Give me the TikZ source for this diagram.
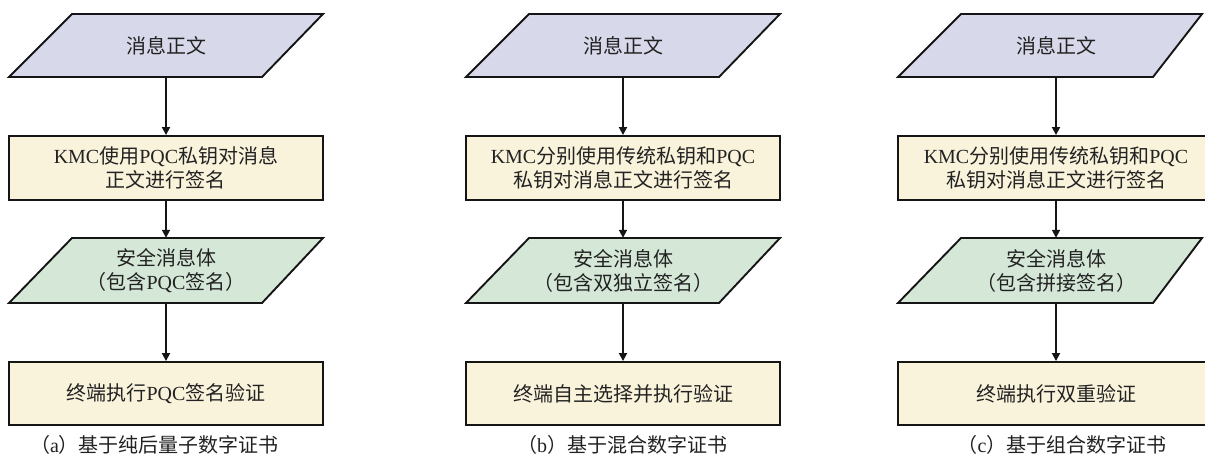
\documentclass[tikz,border=0pt]{standalone}
\usepackage{fontspec}
\newfontfamily\cjk{Noto Sans CJK SC}
\newfontfamily\lat{Liberation Serif}
\usetikzlibrary{arrows.meta}
\definecolor{lav}{HTML}{D8D8EB}
\definecolor{cream}{HTML}{FAF3DC}
\definecolor{mint}{HTML}{D5E8D8}
\definecolor{edge}{HTML}{151515}
\definecolor{txtc}{HTML}{222222}
\newcommand\boxfont{\cjk\fontsize{20}{24}\selectfont}
\tikzset{
  box/.style={draw=edge, line width=1.9pt, fill=cream, minimum width=314pt, minimum height=64pt, inner sep=0pt, align=center, font=\boxfont, text=txtc},
  io/.style={minimum width=314pt, minimum height=63pt, inner sep=0pt, align=center, font=\boxfont, text=txtc},
  para/.style={draw=edge, line width=1.9pt, line join=miter},
  arr/.style={draw=edge, line width=1.8pt, -{Triangle[length=8pt,width=8pt]}},
  captext/.style={font=\boxfont, text=txtc, inner sep=0pt}
}
\begin{document}
\begin{tikzpicture}[x=1pt,y=-1pt]
\useasboundingbox (0,0) rectangle (1205,457);
\clip (0,0) rectangle (1205,457);
% parallelograms (top, lavender)
\path[para, fill=lav] (72,14)--(323,14)--(262,77)--(9,77)--cycle;
\path[para, fill=lav] (529,14)--(780,14)--(719,77)--(466,77)--cycle;
\path[para, fill=lav] (961,14)--(1202,14)--(1153,77)--(898,77)--cycle;
% parallelograms (green)
\path[para, fill=mint] (72,238)--(323,238)--(262,303)--(9,303)--cycle;
\path[para, fill=mint] (529,238)--(780,238)--(719,303)--(466,303)--cycle;
\path[para, fill=mint] (961,238)--(1202,238)--(1153,303)--(898,303)--cycle;

% column a
\node[io] (a1) at (166,45.5) {消息正文};
\node[box] (a2) at (166,168) {{\lat KMC}使用{\lat PQC}私钥对消息\\正文进行签名};
\node[io, minimum height=65pt] (a3) at (166,270.5) {安全消息体\\（包含{\lat PQC}签名）};
\node[box, minimum height=63pt] (a4) at (166,393.5) {终端执行{\lat PQC}签名验证};
\node[captext] (ca) at (154.5,445) {（{\lat a}）基于纯后量子数字证书};

% column b
\node[io] (b1) at (623,45.5) {消息正文};
\node[box] (b2) at (623,168) {{\lat KMC}分别使用传统私钥和{\lat PQC}\\私钥对消息正文进行签名};
\node[io, minimum height=65pt] (b3) at (623,270.5) {安全消息体\\（包含双独立签名）};
\node[box, minimum height=63pt] (b4) at (623,393.5) {终端自主选择并执行验证};
\node[captext] (cb) at (622,445) {（{\lat b}）基于混合数字证书};

% column c
\node[io] (c1) at (1056,45.5) {消息正文};
\node[box, minimum width=316pt] (c2) at (1056,168) {{\lat KMC}分别使用传统私钥和{\lat PQC}\\私钥对消息正文进行签名};
\node[io, minimum height=65pt] (c3) at (1056,270.5) {安全消息体\\（包含拼接签名）};
\node[box, minimum width=316pt, minimum height=63pt] (c4) at (1056,393.5) {终端执行双重验证};
\node[captext] (cc) at (1062,445) {（{\lat c}）基于组合数字证书};

% arrows
\foreach \c in {a,b,c}{
  \draw[arr] (\c1.south) -- (\c2.north);
  \draw[arr] (\c2.south) -- (\c3.north);
  \draw[arr] (\c3.south) -- (\c4.north);
}
\end{tikzpicture}
\end{document}
